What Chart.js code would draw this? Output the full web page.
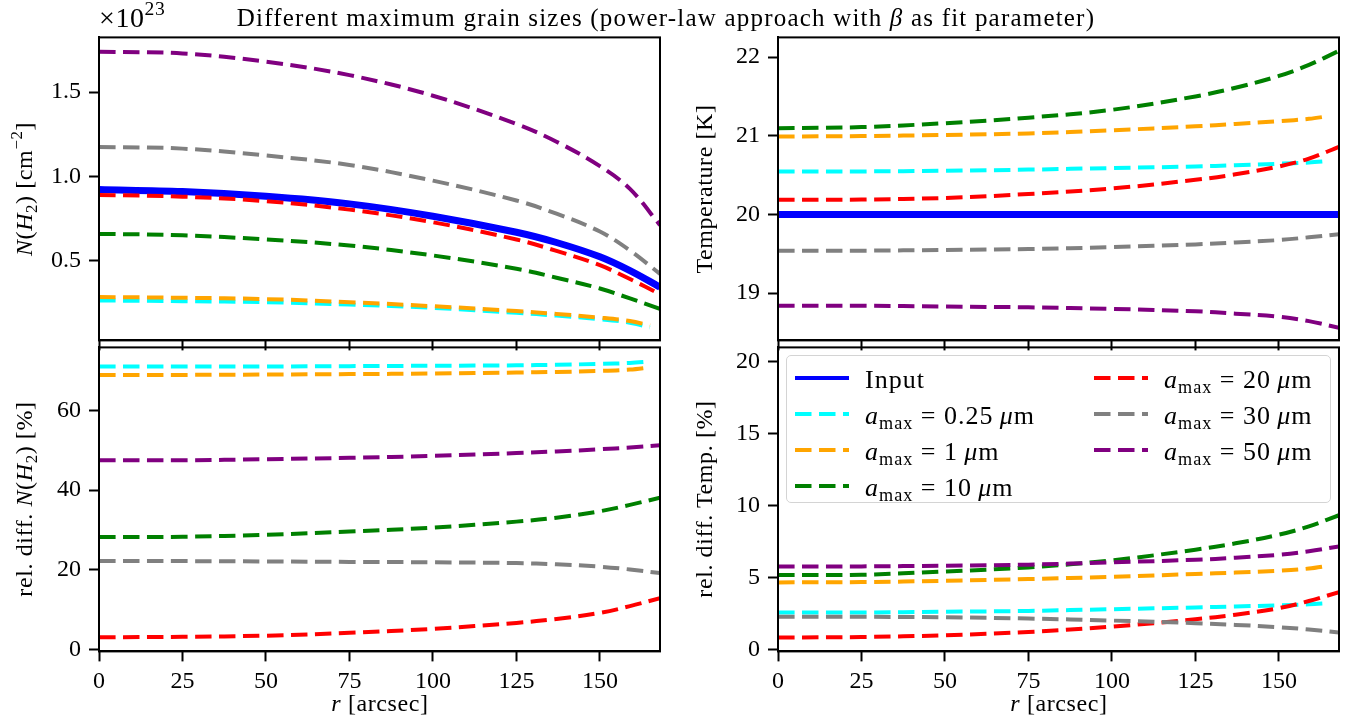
<!DOCTYPE html>
<html>
<head>
<meta charset="utf-8">
<script src="https://cdn.jsdelivr.net/npm/chart.js@4.4.1/dist/chart.umd.min.js"></script>
<style>
  body { margin: 0; width: 1358px; height: 718px; background: #fff; position: relative; overflow: hidden;
         font-family: "Liberation Serif", serif; color: #000; }
  canvas { position: absolute; }
  .txt { position: absolute; font-size: 24px; line-height: 1; white-space: nowrap; letter-spacing: 0.6px; }
  .rot { transform: translate(-50%, -50%) rotate(-90deg); }
  .ctr { transform: translate(-50%, -50%); }
  sub { font-size: 70%; vertical-align: -0.3em; line-height: 0; }
  sup { font-size: 70%; vertical-align: 0.6em; line-height: 0; }
  #legend { position: absolute; left: 786px; top: 355px; width: 545px; height: 148px; box-sizing: border-box;
            border: 1.5px solid #d4d4d4; border-radius: 5px; background: rgba(255,255,255,0.8); }
  #legend .item { position: absolute; height: 30px; }
  #legend svg { position: absolute; top: 10px; }
  #legend span { position: absolute; top: 2px; font-size: 26px; white-space: nowrap; letter-spacing: 1px; }
</style>
</head>
<body>

<canvas id="nh" width="660" height="340"></canvas>
<canvas id="temp" width="660" height="340"></canvas>
<canvas id="relN" width="660" height="370"></canvas>
<canvas id="relT" width="660" height="370"></canvas>

<div class="txt" style="left:666px; top:17px; transform:translate(-50%,-50%); font-size:25px; letter-spacing:1.2px;">Different maximum grain sizes (power-law approach with <i>β</i> as fit parameter)</div>
<div class="txt" style="left:99px; top:4px; font-size:28px;">×10<sup>23</sup></div>

<div class="txt rot" style="left:24px; top:189px;"><i>N</i>(<i>H</i><sub>2</sub>) [cm<sup>−2</sup>]</div>
<div class="txt rot" style="left:704px; top:189px;">Temperature [K]</div>
<div class="txt rot" style="left:24px; top:499px;">rel. diff. <i>N</i>(<i>H</i><sub>2</sub>) [%]</div>
<div class="txt rot" style="left:704px; top:499px;">rel. diff. Temp. [%]</div>
<div class="txt ctr" style="left:380px; top:703px;"><i>r</i> [arcsec]</div>
<div class="txt ctr" style="left:1059px; top:703px;"><i>r</i> [arcsec]</div>

<div id="legend"></div>

<script>
// radius samples (arcsec); the two smallest grain sizes stop a bit earlier
const r      = [0, 25, 50, 75, 100, 125, 137, 150, 159, 168];
const rShort = [0, 25, 50, 75, 100, 125, 137, 150, 159, 165];
const rTicks = [0, 25, 50, 75, 100, 125, 150];

const labels  = ['Input', '0.25', '1', '10', '20', '30', '50'];
const colours = ['blue', 'cyan', 'orange', 'green', 'red', 'gray', 'purple'];

// column density, units of 1e23 cm^-2
const nhInput  = [0.921, 0.909, 0.881, 0.836, 0.763, 0.668, 0.607, 0.522, 0.440, 0.342];
const nh025    = [0.263, 0.259, 0.253, 0.239, 0.219, 0.190, 0.173, 0.152, 0.131, 0.103];
const nh1      = [0.283, 0.279, 0.271, 0.253, 0.229, 0.200, 0.183, 0.161, 0.141, 0.115];
const nh10     = [0.658, 0.650, 0.625, 0.589, 0.530, 0.451, 0.398, 0.334, 0.275, 0.213];
const nh20     = [0.889, 0.879, 0.852, 0.802, 0.727, 0.625, 0.557, 0.472, 0.390, 0.300];
const nh30     = [1.174, 1.164, 1.123, 1.067, 0.974, 0.856, 0.778, 0.672, 0.560, 0.421];
const nh50     = [1.739, 1.729, 1.680, 1.600, 1.478, 1.310, 1.205, 1.060, 0.925, 0.710];
const nhTicks  = [0.5, 1.0, 1.5];

// temperature, K
const tInput = [20, 20, 20, 20, 20, 20, 20, 20, 20, 20];
const t025   = [20.547, 20.547, 20.555, 20.57, 20.59, 20.61, 20.625, 20.645, 20.66, 20.68];
const t1     = [20.99, 20.996, 21.01, 21.03, 21.07, 21.12, 21.15, 21.185, 21.215, 21.25];
const t10    = [21.097, 21.11, 21.16, 21.23, 21.33, 21.50, 21.61, 21.76, 21.90, 22.08];
const t20    = [20.186, 20.19, 20.21, 20.26, 20.33, 20.44, 20.51, 20.61, 20.71, 20.86];
const t30    = [19.54, 19.54, 19.55, 19.56, 19.585, 19.62, 19.645, 19.675, 19.71, 19.75];
const t50    = [18.84, 18.84, 18.83, 18.82, 18.80, 18.77, 18.74, 18.70, 18.645, 18.56];
const tTicks = [19, 20, 21, 22];

// relative difference of N(H2), %
const dn025 = [71.0, 71.0, 71.0, 71.1, 71.2, 71.3, 71.45, 71.65, 71.9, 72.25];
const dn1   = [68.9, 68.9, 69.0, 69.1, 69.25, 69.5, 69.65, 69.9, 70.25, 70.8];
const dn10  = [28.25, 28.3, 28.8, 29.6, 30.6, 32.1, 33.1, 34.7, 36.3, 38.1];
const dn20  = [3.1, 3.2, 3.5, 4.2, 5.2, 6.7, 7.7, 9.2, 10.9, 12.9];
const dn30  = [22.2, 22.2, 22.1, 22.0, 21.9, 21.7, 21.4, 20.8, 20.1, 19.2];
const dn50  = [47.5, 47.5, 47.75, 48.1, 48.6, 49.3, 49.7, 50.25, 50.7, 51.25];
const dnTicks = [0, 20, 40, 60];

// relative difference of temperature, %
const dt025 = [2.60, 2.60, 2.65, 2.71, 2.83, 2.95, 3.02, 3.09, 3.17, 3.25];
const dt1   = [4.69, 4.71, 4.80, 4.92, 5.08, 5.27, 5.37, 5.50, 5.65, 5.85];
const dt10  = [5.20, 5.22, 5.45, 5.73, 6.22, 6.96, 7.40, 8.00, 8.58, 9.35];
const dt20  = [0.86, 0.90, 1.02, 1.25, 1.62, 2.13, 2.45, 2.90, 3.40, 4.01];
const dt30  = [2.30, 2.30, 2.27, 2.18, 2.04, 1.86, 1.74, 1.58, 1.42, 1.21];
const dt50  = [5.80, 5.80, 5.85, 5.92, 6.08, 6.26, 6.40, 6.61, 6.85, 7.19];
const dtTicks = [0, 5, 10, 15, 20];

const DASH = [16.5, 7.5];

Chart.defaults.font.family = 'Liberation Serif';
Chart.defaults.font.size = 24;
Chart.defaults.color = '#000';

function line(k, xs, ys) {
  const solid = k === 0;
  return {
    label: labels[k],
    data: xs.map((x, i) => ({ x: x, y: ys[i] })),
    borderColor: colours[k],
    borderWidth: solid ? 7 : 4,
    borderDash: solid ? [] : DASH,
    borderCapStyle: 'butt',
    pointRadius: 0,
    tension: 0.35,
    clip: 0,
    order: 10 - k
  };
}

// black box round the plot area, like matplotlib spines
const frame = {
  id: 'frame',
  afterDraw(chart) {
    const a = chart.chartArea, c = chart.ctx;
    c.save();
    c.strokeStyle = '#000';
    c.lineWidth = 2;
    c.strokeRect(a.left, a.top, a.right - a.left, a.bottom - a.top);
    c.restore();
  }
};

function scales(yMin, yMax, yTicks, fmt, showX) {
  const grid = { drawOnChartArea: false, tickLength: 10, tickWidth: 2, tickColor: '#000' };
  const border = { color: '#000', width: 2 };
  return {
    x: {
      type: 'linear', min: 0, max: 168, grid: grid, border: border,
      afterBuildTicks: s => { s.ticks = rTicks.map(v => ({ value: v })); },
      ticks: { display: showX, padding: 6, maxRotation: 0, autoSkip: false },
      afterFit: s => { s.height = showX ? 46 : 10; }
    },
    y: {
      type: 'linear', min: yMin, max: yMax, grid: grid, border: border,
      afterBuildTicks: s => { s.ticks = yTicks.map(v => ({ value: v })); },
      ticks: { padding: 8, callback: v => fmt(v) },
      afterFit: s => { s.width = 90; }
    }
  };
}

function makeChart(id, datasets, sc) {
  return new Chart(document.getElementById(id), {
    type: 'line',
    data: { datasets: datasets },
    options: {
      responsive: false, maintainAspectRatio: false, animation: false,
      layout: { padding: { top: 4, right: 4, left: 0, bottom: 0 } },
      plugins: { legend: { display: false }, tooltip: { enabled: false } },
      scales: sc
    },
    plugins: [frame]
  });
}

// move / resize each canvas so its plot area sits at the given box
function place(chart, box) {
  let a = chart.chartArea;
  const w = chart.width + (box[2] - box[0]) - (a.right - a.left);
  const h = chart.height + (box[3] - box[1]) - (a.bottom - a.top);
  chart.resize(w, h);
  chart.update('none');
  a = chart.chartArea;
  chart.canvas.style.left = (box[0] - a.left) + 'px';
  chart.canvas.style.top = (box[1] - a.top) + 'px';
}

const one = v => v.toFixed(1);
const int = v => String(Math.round(v));

const nhChart = makeChart('nh', [
  line(0, r, nhInput), line(1, rShort, nh025), line(2, rShort, nh1), line(3, r, nh10),
  line(4, r, nh20), line(5, r, nh30), line(6, r, nh50)
], scales(0.026, 1.824, nhTicks, one, false));

const tChart = makeChart('temp', [
  line(0, r, tInput), line(1, rShort, t025), line(2, rShort, t1), line(3, r, t10),
  line(4, r, t20), line(5, r, t30), line(6, r, t50)
], scales(18.40, 22.25, tTicks, int, false));

const dnChart = makeChart('relN', [
  line(1, rShort, dn025), line(2, rShort, dn1), line(3, r, dn10),
  line(4, r, dn20), line(5, r, dn30), line(6, r, dn50)
], scales(-0.45, 75.8, dnTicks, int, true));

const dtChart = makeChart('relT', [
  line(1, rShort, dt025), line(2, rShort, dt1), line(3, r, dt10),
  line(4, r, dt20), line(5, r, dt30), line(6, r, dt50)
], scales(-0.1, 21, dtTicks, int, true));

place(nhChart, [99, 37, 660, 340]);
place(tChart,  [778, 37, 1339, 340]);
place(dnChart, [99, 347, 660, 651]);
place(dtChart, [778, 347, 1339, 651]);

// legend: two columns, filled column-wise
const legend = document.getElementById('legend');
labels.forEach((lab, k) => {
  const col = k < 4 ? 0 : 1;
  const row = k < 4 ? k : k - 4;
  const item = document.createElement('div');
  item.className = 'item';
  item.style.left = (col ? 307 : 8) + 'px';
  item.style.top = (7 + row * 36) + 'px';
  const solid = k === 0;
  item.innerHTML =
    '<svg width="54" height="10"><line x1="0" y1="5" x2="54" y2="5" stroke="' + colours[k] +
    '" stroke-width="4"' + (solid ? '' : ' stroke-dasharray="' + DASH.join(',') + '"') +
    '/></svg><span style="left:70px">' +
    (solid ? lab : '<i>a</i><sub>max</sub> = ' + lab + '&#8201;<i>μ</i>m') + '</span>';
  legend.appendChild(item);
});
</script>
</body>
</html>
